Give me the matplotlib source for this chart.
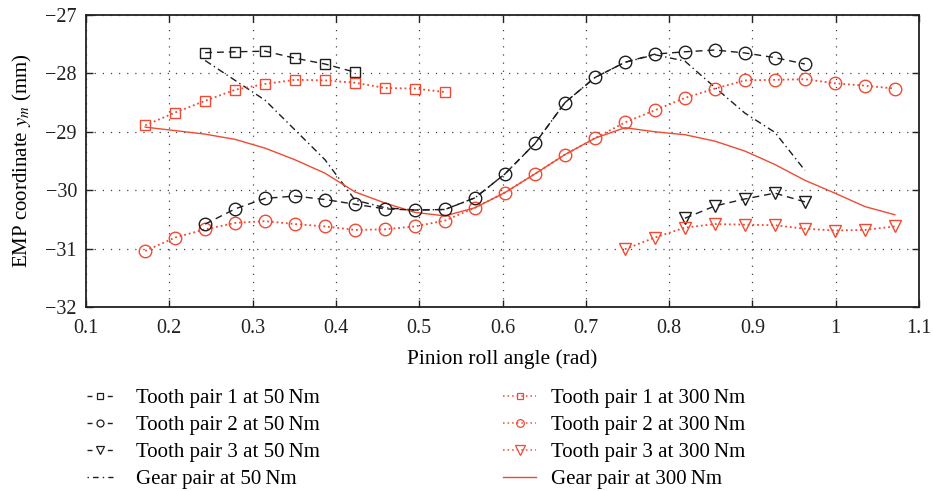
import matplotlib
matplotlib.use("Agg")
import matplotlib.pyplot as plt
from matplotlib.lines import Line2D

plt.rcParams['font.family'] = ['Liberation Serif', 'DejaVu Serif']
plt.rcParams['mathtext.fontset'] = 'stix'

# ---- data ----
x_tp1_50 = [0.243, 0.279, 0.315, 0.351, 0.387, 0.423]
y_tp1_50 = [-27.645, -27.63, -27.62, -27.74, -27.84, -27.98]

x_tp1_300 = [0.171, 0.207, 0.243, 0.279, 0.315, 0.351, 0.387, 0.423, 0.459, 0.495, 0.531]
y_tp1_300 = [-28.89, -28.67, -28.47, -28.28, -28.18, -28.11, -28.12, -28.16, -28.25, -28.26, -28.32]

x_tp2_50 = [0.243, 0.279, 0.315, 0.351, 0.387, 0.423, 0.459, 0.495, 0.531, 0.567,
            0.603, 0.639, 0.675, 0.711, 0.747, 0.783, 0.819, 0.855, 0.891, 0.927, 0.963]
y_tp2_50 = [-30.58, -30.32, -30.14, -30.10, -30.16, -30.24, -30.32, -30.34, -30.33, -30.13,
            -29.72, -29.20, -28.50, -28.07, -27.81, -27.67, -27.63, -27.60, -27.65, -27.73, -27.84]

x_tp2_300 = [0.171, 0.207, 0.243, 0.279, 0.315, 0.351, 0.387, 0.423, 0.459, 0.495, 0.531, 0.567,
             0.603, 0.639, 0.675, 0.711, 0.747, 0.783, 0.819, 0.855, 0.891, 0.927, 0.963, 0.999,
             1.035, 1.071]
y_tp2_300 = [-31.04, -30.81, -30.67, -30.56, -30.53, -30.58, -30.62, -30.68, -30.67, -30.62, -30.52, -30.30,
             -30.04, -29.72, -29.39, -29.11, -28.84, -28.63, -28.42, -28.26, -28.12, -28.11, -28.10, -28.17,
             -28.21, -28.26]

x_tp3_50 = [0.819, 0.855, 0.891, 0.927, 0.963]
y_tp3_50 = [-30.48, -30.27, -30.15, -30.05, -30.20]

x_tp3_300 = [0.747, 0.783, 0.819, 0.855, 0.891, 0.927, 0.963, 0.999, 1.035, 1.071]
y_tp3_300 = [-31.01, -30.81, -30.64, -30.58, -30.59, -30.60, -30.66, -30.69, -30.68, -30.62]

x_gear_50 = [0.243, 0.279, 0.315, 0.351, 0.387, 0.423, 0.459, 0.495, 0.531, 0.567,
             0.603, 0.639, 0.675, 0.711, 0.747, 0.783, 0.819, 0.855, 0.891, 0.927, 0.963]
y_gear_50 = [-27.78, -28.12, -28.46, -28.97, -29.48, -30.17, -30.30, -30.34, -30.33, -30.13,
             -29.72, -29.20, -28.50, -28.07, -27.81, -27.68, -27.79, -28.24, -28.68, -29.01, -29.66]

x_gear_300 = [0.171, 0.207, 0.243, 0.279, 0.315, 0.351, 0.387, 0.423, 0.459, 0.495, 0.531, 0.567,
              0.603, 0.639, 0.675, 0.711, 0.747, 0.783, 0.819, 0.855, 0.891, 0.927, 0.963, 0.999,
              1.035, 1.071]
y_gear_300 = [-28.92, -28.98, -29.04, -29.13, -29.28, -29.48, -29.71, -30.03, -30.22, -30.38, -30.44, -30.30,
              -30.04, -29.72, -29.39, -29.11, -28.93, -29.00, -29.05, -29.16, -29.33, -29.56, -29.83, -30.05,
              -30.28, -30.42]

xticks = [0.1, 0.2, 0.3, 0.4, 0.5, 0.6, 0.7, 0.8, 0.9, 1.0, 1.1]
xticklabels = ['0.1', '0.2', '0.3', '0.4', '0.5', '0.6', '0.7', '0.8', '0.9', '1', '1.1']
yticks = [-32, -31, -30, -29, -28, -27]
yticklabels = ['\u221232', '\u221231', '\u221230', '\u221229', '\u221228', '\u221227']

labels_50 = ['Tooth pair 1 at 50\u2009Nm', 'Tooth pair 2 at 50\u2009Nm', 'Tooth pair 3 at 50\u2009Nm',
             'Gear pair at 50\u2009Nm']
labels_300 = ['Tooth pair 1 at 300\u2009Nm', 'Tooth pair 2 at 300\u2009Nm', 'Tooth pair 3 at 300\u2009Nm',
              'Gear pair at 300\u2009Nm']

# ---- styling ----
BLACK = '#1e1e1e'
RED = '#f04a33'
dash50 = (0, (5, 3.5))
dot300 = (0, (1, 1.6))
dashdot = (0, (5, 2.5, 1, 2.5))

fig = plt.figure(figsize=(9.33, 4.91), dpi=100)
ax = fig.add_axes([0.0922, 0.3747, 0.8928, 0.5948])

lw = 1.0
h1 = ax.plot(x_tp1_50, y_tp1_50, color=BLACK, ls=dash50, lw=lw, marker='s', ms=7,
             mfc='none', mec=BLACK, mew=1.0)[0]
h2 = ax.plot(x_tp2_50, y_tp2_50, color=BLACK, ls=dash50, lw=lw, marker='o', ms=9,
             mfc='none', mec=BLACK, mew=1.0, zorder=3)[0]
h3 = ax.plot(x_tp3_50, y_tp3_50, color=BLACK, ls=dash50, lw=lw, marker='v', ms=9,
             mfc='none', mec=BLACK, mew=1.0)[0]
h4 = ax.plot(x_gear_50, y_gear_50, color=BLACK, ls=dashdot, lw=lw, zorder=2)[0]
h5 = ax.plot(x_tp1_300, y_tp1_300, color=RED, ls=dot300, lw=1.3, marker='s', ms=7,
             mfc='none', mec=RED, mew=1.0)[0]
h6 = ax.plot(x_tp2_300, y_tp2_300, color=RED, ls=dot300, lw=1.3, marker='o', ms=9,
             mfc='none', mec=RED, mew=1.0)[0]
h7 = ax.plot(x_tp3_300, y_tp3_300, color=RED, ls=dot300, lw=1.3, marker='v', ms=9,
             mfc='none', mec=RED, mew=1.0)[0]
h8 = ax.plot(x_gear_300, y_gear_300, color=RED, ls='-', lw=1.0)[0]

ax.set_xlim(0.1, 1.1)
ax.set_ylim(-32, -27)
ax.set_xticks(xticks)
ax.set_xticklabels(xticklabels)
ax.set_yticks(yticks)
ax.set_yticklabels(yticklabels)
ax.tick_params(direction='in', length=5, width=1.0, top=True, right=True,
               labelsize=14.5, colors='#222222')
ax.tick_params(axis='x', pad=8.5)
ax.tick_params(axis='y', pad=6.5)
for s in ax.spines.values():
    s.set_linewidth(1.3)
    s.set_color('#222222')
ax.grid(True, ls=(0, (1, 5.5)), color='#444444', lw=0.9)
ax.set_axisbelow(True)

ax.set_xlabel('Pinion roll angle (rad)', fontsize=15.5)
ax.xaxis.set_label_coords(0.5, -0.143)
ax.set_ylabel('EMP coordinate $y_m$ (mm)', fontsize=15)
ax.yaxis.set_label_coords(-0.062, 0.5)

# legend handles (small markers)
def lh(color, marker, ms, dashes, lw_=1.0):
    l = Line2D([], [], color=color, lw=lw_, marker=marker, ms=ms, mfc='none', mec=color, mew=0.9)
    if dashes is not None:
        l.set_dashes(dashes)
    return l

leg50 = [lh(BLACK, 's', 4.5, (3.6, 11.0)), lh(BLACK, 'o', 5, (3.6, 11.0)), lh(BLACK, 'v', 6, (3.6, 11.0)),
         lh(BLACK, None, 0, (1, 3, 4, 3))]
leg300 = [lh(RED, 's', 4.5, (1, 2), 1.1), lh(RED, 'o', 5.5, (1, 2), 1.1), lh(RED, 'v', 6.5, (1, 2), 1.1),
          lh(RED, None, 0, None)]

common = dict(loc='upper left', frameon=False, fontsize=15,
              labelspacing=0.35, borderpad=0, borderaxespad=0)
fig.legend(leg50, labels_50, bbox_to_anchor=(87 / 933, 0.208),
           handlelength=1.25, handletextpad=1.1, **common)
fig.legend(leg300, labels_300, bbox_to_anchor=(503 / 933, 0.208),
           handlelength=1.6, handletextpad=0.7, **common)

fig.savefig('out.png', dpi=100)
